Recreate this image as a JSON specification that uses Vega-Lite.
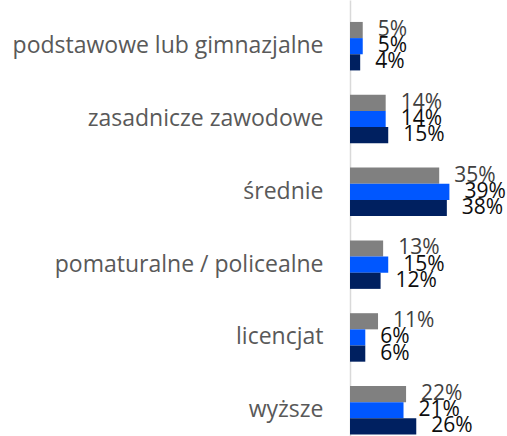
{
  "$schema": "https://vega.github.io/schema/vega-lite/v6.json",
  "width": 157,
  "height": 436,
  "autosize": "none",
  "padding": {"left": 350, "top": 0, "right": 0, "bottom": 0},
  "background": "white",
  "config": {"view": {"stroke": null}},
  "data": {
    "values": [
      {"kategoria": "podstawowe lub gimnazjalne", "seria": "s1", "wartosc": 0.05},
      {"kategoria": "podstawowe lub gimnazjalne", "seria": "s2", "wartosc": 0.05},
      {"kategoria": "podstawowe lub gimnazjalne", "seria": "s3", "wartosc": 0.04},
      {"kategoria": "zasadnicze zawodowe", "seria": "s1", "wartosc": 0.14},
      {"kategoria": "zasadnicze zawodowe", "seria": "s2", "wartosc": 0.14},
      {"kategoria": "zasadnicze zawodowe", "seria": "s3", "wartosc": 0.15},
      {"kategoria": "średnie", "seria": "s1", "wartosc": 0.35},
      {"kategoria": "średnie", "seria": "s2", "wartosc": 0.39},
      {"kategoria": "średnie", "seria": "s3", "wartosc": 0.38},
      {"kategoria": "pomaturalne / policealne", "seria": "s1", "wartosc": 0.13},
      {"kategoria": "pomaturalne / policealne", "seria": "s2", "wartosc": 0.15},
      {"kategoria": "pomaturalne / policealne", "seria": "s3", "wartosc": 0.12},
      {"kategoria": "licencjat", "seria": "s1", "wartosc": 0.11},
      {"kategoria": "licencjat", "seria": "s2", "wartosc": 0.06},
      {"kategoria": "licencjat", "seria": "s3", "wartosc": 0.06},
      {"kategoria": "wyższe", "seria": "s1", "wartosc": 0.22},
      {"kategoria": "wyższe", "seria": "s2", "wartosc": 0.21},
      {"kategoria": "wyższe", "seria": "s3", "wartosc": 0.26}
    ]
  },
  "encoding": {
    "y": {
      "field": "kategoria",
      "type": "nominal",
      "sort": null,
      "title": null,
      "scale": {"paddingInner": 0.334, "paddingOuter": 0.161, "align": 0.936},
      "axis": {
        "ticks": false,
        "grid": false,
        "domainColor": "#d9d9d9",
        "domainWidth": 1.5,
        "labelFont": "Open Sans",
        "labelFontSize": 23,
        "labelColor": "#595959",
        "labelPadding": 27,
        "labelLimit": 400
      }
    },
    "yOffset": {"field": "seria", "type": "nominal", "sort": ["s1", "s2", "s3"], "scale": {"paddingInner": 0, "paddingOuter": 0}},
    "x": {"field": "wartosc", "type": "quantitative", "scale": {"domain": [0, 0.616]}, "axis": null}
  },
  "layer": [
    {
      "mark": {"type": "bar"},
      "encoding": {
        "color": {
          "field": "seria",
          "type": "nominal",
          "legend": null,
          "scale": {"domain": ["s1", "s2", "s3"], "range": ["#808080", "#0057ff", "#002060"]}
        }
      }
    },
    {
      "mark": {"type": "text", "align": "left", "baseline": "middle", "dx": 15, "font": "Open Sans", "fontSize": 21},
      "encoding": {
        "text": {"field": "wartosc", "type": "quantitative", "format": ".0%"},
        "color": {
          "field": "seria",
          "type": "nominal",
          "legend": null,
          "scale": {"domain": ["s1", "s2", "s3"], "range": ["#404040", "#0d0d0d", "#0d0d0d"]}
        }
      }
    }
  ],
  "resolve": {"scale": {"color": "independent"}}
}
